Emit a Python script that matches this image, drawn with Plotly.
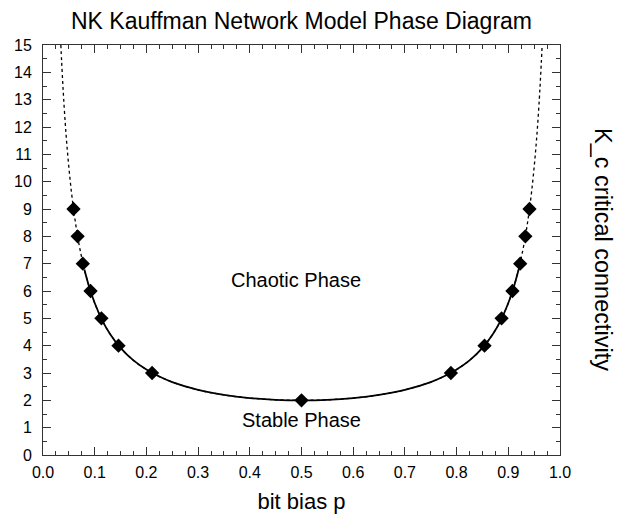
import plotly.graph_objects as go

# critical connectivity curve (bit bias p, K_c)
p_curve = [0.0345, 0.036, 0.038, 0.040, 0.043, 0.046, 0.050, 0.055, 0.060, 0.065,
           0.070, 0.075, 0.080, 0.090, 0.100, 0.115, 0.130, 0.150, 0.175, 0.200,
           0.225, 0.250, 0.300, 0.350, 0.400, 0.450, 0.500, 0.550, 0.600, 0.650,
           0.700, 0.750, 0.775, 0.800, 0.825, 0.850, 0.870, 0.885, 0.900, 0.910,
           0.920, 0.925, 0.930, 0.935, 0.940, 0.945, 0.950, 0.954, 0.957, 0.960,
           0.962, 0.964, 0.9655]
kc_curve = [15.0, 14.41, 13.68, 13.02, 12.15, 11.39, 10.53, 9.62, 8.87, 8.23,
            7.68, 7.21, 6.79, 6.11, 5.56, 4.91, 4.42, 3.92, 3.46, 3.125,
            2.87, 2.667, 2.381, 2.198, 2.083, 2.020, 2.0, 2.020, 2.083, 2.198,
            2.381, 2.667, 2.87, 3.125, 3.46, 3.92, 4.42, 4.91, 5.56, 6.11,
            6.79, 7.21, 7.68, 8.23, 8.87, 9.62, 10.53, 11.39, 12.15, 13.02,
            13.68, 14.41, 15.0]

# integer K points marked with diamonds
p_marks = [0.059, 0.067, 0.077, 0.092, 0.113, 0.146, 0.211, 0.500,
           0.789, 0.854, 0.887, 0.908, 0.923, 0.933, 0.941]
k_marks = [9, 8, 7, 6, 5, 4, 3, 2, 3, 4, 5, 6, 7, 8, 9]

# solid part of the curve (below the dotted tails)
solid_p = [p for p, k in zip(p_curve, kc_curve) if k <= 6.8]
solid_k = [k for k in kc_curve if k <= 6.8]

FONT = "Liberation Sans, Arial, Helvetica, sans-serif"

fig = go.Figure()

fig.add_trace(go.Scatter(
    x=p_curve, y=kc_curve, mode='lines', line_shape='spline',
    line=dict(color='black', width=1.3, dash='dot'), hoverinfo='skip'
))
fig.add_trace(go.Scatter(
    x=solid_p, y=solid_k, mode='lines', line_shape='spline',
    line=dict(color='black', width=1.8)
))
fig.add_trace(go.Scatter(
    x=p_marks, y=k_marks, mode='markers',
    marker=dict(symbol='diamond', size=11, color='black')
))

fig.add_annotation(x=0.49, y=6.4, text='Chaotic Phase', showarrow=False,
                   font=dict(size=20, color='black'))
fig.add_annotation(x=0.5, y=1.28, text='Stable Phase', showarrow=False,
                   font=dict(size=20, color='black'))
fig.add_annotation(xref='paper', yref='paper', x=1.112, y=0.5,
                   text='K_c critical connectivity', textangle=90,
                   showarrow=False, font=dict(size=23.5, color='black'))

axis_common = dict(
    showline=True, linecolor='#333', linewidth=1, mirror='ticks',
    ticks='inside', tickcolor='#333', showgrid=False, zeroline=False,
    tickfont=dict(size=16, color='black'), automargin=False,
)

fig.update_xaxes(range=[0, 1], dtick=0.1, tick0=0, tickformat='.1f', ticklen=8,
                 ticklabelstandoff=3,
                 minor=dict(dtick=0.025, ticklen=4, ticks='inside', tickcolor='#333'),
                 title=dict(text='bit bias p', font=dict(size=22, color='black'), standoff=13),
                 **axis_common)
fig.update_yaxes(range=[0, 15], dtick=1, tick0=0, ticklen=8,
                 ticklabelstandoff=7,
                 minor=dict(dtick=0.5, ticklen=4, ticks='inside', tickcolor='#333'),
                 **axis_common)

# page renders with an 8px offset, so margins are shifted to compensate
fig.update_layout(
    width=624, height=514,
    margin=dict(l=35, r=72, t=37, b=67),
    paper_bgcolor='white', plot_bgcolor='white',
    showlegend=False,
    font=dict(family=FONT, color='black'),
    title=dict(text='NK Kauffman Network Model Phase Diagram', x=0.5, xref='paper',
               y=0.975, yanchor='middle', font=dict(size=23, color='black')),
)

fig.write_html("out.html")
